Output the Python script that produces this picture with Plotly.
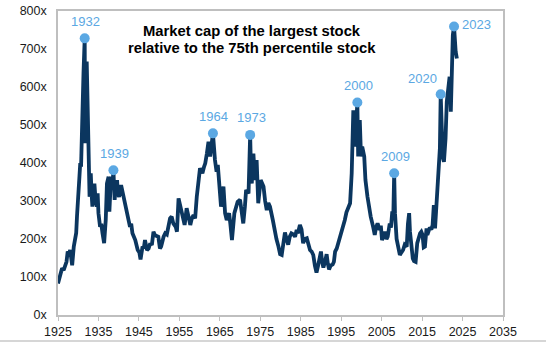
import plotly.graph_objects as go

# ---- data ----
years = [
    1925.0, 1925.5, 1926.0, 1926.4, 1926.8, 1927.1, 1927.4, 1927.7, 1928.0, 1928.3,
    1928.5, 1928.9, 1929.2, 1929.5, 1929.7, 1929.9, 1930.1, 1930.3, 1930.5, 1930.7,
    1930.9, 1931.1, 1931.3, 1931.6, 1931.7, 1932.1, 1932.2, 1932.4, 1932.6, 1932.8,
    1933.0, 1933.1, 1933.3, 1933.5, 1933.7, 1934.0, 1934.3, 1934.6, 1934.8, 1935.0,
    1935.4, 1935.7, 1936.0, 1936.4, 1936.8, 1937.1, 1937.5, 1937.7, 1938.1, 1938.4,
    1938.7, 1939.0, 1939.3, 1939.6, 1939.8, 1940.1, 1940.6, 1941.2, 1941.8, 1942.3,
    1942.8, 1943.1, 1943.4, 1944.1, 1944.7, 1945.1, 1945.4, 1945.9, 1946.2, 1946.5,
    1947.0, 1947.4, 1947.8, 1948.2, 1948.6, 1949.0, 1949.8, 1950.2, 1950.5, 1951.1,
    1951.5, 1951.9, 1952.3, 1952.7, 1953.1, 1953.5, 1954.1, 1954.4, 1954.8, 1955.2,
    1955.6, 1956.0, 1956.3, 1956.8, 1957.2, 1957.7, 1958.1, 1958.5, 1958.9, 1959.3,
    1960.1, 1960.7, 1961.1, 1961.4, 1961.8, 1962.2, 1962.6, 1963.0, 1963.3, 1963.8,
    1964.2, 1964.5, 1964.8, 1965.3, 1965.9, 1966.3, 1966.7, 1967.3, 1967.6, 1968.0,
    1968.6, 1969.0, 1969.4, 1970.0, 1970.4, 1970.8, 1971.2, 1971.5, 1972.1, 1972.5,
    1972.7, 1972.9, 1973.3, 1973.5, 1973.7, 1974.1, 1974.5, 1975.1, 1975.8, 1976.2,
    1976.6, 1977.0, 1977.4, 1978.1, 1978.6, 1979.0, 1979.5, 1979.9, 1980.3, 1980.7,
    1981.1, 1981.5, 1981.9, 1982.3, 1982.7, 1983.2, 1983.6, 1984.0, 1984.3, 1984.8,
    1985.2, 1985.6, 1986.0, 1986.5, 1986.9, 1987.3, 1987.7, 1988.1, 1988.5, 1988.9,
    1989.3, 1989.6, 1990.0, 1990.3, 1990.6, 1991.0, 1991.4, 1991.7, 1992.0, 1992.4,
    1992.9, 1993.2, 1993.5, 1993.9, 1994.3, 1994.7, 1995.1, 1995.5, 1995.9, 1996.3,
    1996.8, 1997.2, 1997.6, 1998.0, 1998.4, 1998.8, 1999.0, 1999.2, 1999.6, 1999.9,
    2000.2, 2000.7, 2001.0, 2001.5, 2001.9, 2002.3, 2002.9, 2003.3, 2003.6, 2004.0,
    2004.5, 2004.8, 2005.1, 2005.5, 2005.8, 2006.2, 2006.5, 2007.0, 2007.3, 2007.6,
    2007.9, 2008.1, 2008.3, 2008.7, 2009.0, 2009.5, 2009.9, 2010.3, 2010.7, 2011.2,
    2011.5, 2011.8, 2012.0, 2012.3, 2012.7, 2013.0, 2013.4, 2013.8, 2014.2, 2014.5,
    2014.8, 2015.1, 2015.4, 2015.7, 2016.1, 2016.3, 2016.9, 2017.3, 2017.6, 2017.9,
    2018.2, 2018.4, 2018.7, 2019.0, 2019.2, 2019.4, 2019.6, 2019.9, 2020.1, 2020.4,
    2020.8, 2021.1, 2021.5, 2021.8, 2022.1, 2022.3, 2022.6, 2022.9, 2023.1, 2023.3,
    2023.6,
]
ratio = [
    83, 105, 123, 118, 131, 140, 167, 160, 171, 150,
    131, 180, 200, 216, 260, 321, 330, 364, 400, 390,
    513, 540, 636, 728, 452, 667, 600, 452, 390, 311,
    360, 373, 320, 285, 330, 346, 300, 285, 320, 268,
    232, 240, 215, 189, 250, 346, 364, 272, 364, 330,
    381, 303, 340, 355, 320, 311, 342, 311, 285, 250,
    232, 240, 215, 197, 171, 165, 146, 180, 175, 197,
    171, 175, 189, 184, 219, 210, 206, 175, 180, 206,
    215, 212, 235, 254, 259, 241, 232, 219, 307, 290,
    263, 250, 237, 281, 260, 237, 255, 263, 254, 311,
    386, 373, 390, 399, 425, 456, 417, 465, 478, 408,
    377, 395, 355, 285, 338, 268, 250, 268, 240, 197,
    268, 280, 298, 303, 270, 241, 285, 329, 320, 474,
    380, 346, 425, 380, 355, 408, 294, 355, 338, 300,
    276, 295, 285, 250, 215, 200, 180, 160, 158, 190,
    217, 200, 185, 206, 215, 212, 206, 224, 215, 237,
    225, 189, 200, 202, 189, 171, 167, 158, 130, 112,
    130, 145, 167, 140, 125, 140, 160, 135, 120, 130,
    133, 140, 167, 175, 189, 205, 215, 230, 250, 270,
    285, 294, 373, 539, 443, 545, 559, 417, 513, 417,
    443, 417, 355, 311, 276, 259, 232, 211, 230, 241,
    224, 235, 197, 210, 219, 200, 206, 241, 230, 268,
    268, 373, 268, 200, 185, 158, 165, 171, 185, 180,
    240, 268, 220, 180, 149, 142, 140, 189, 205, 215,
    219, 211, 178, 180, 228, 211, 230, 225, 237, 289,
    228, 268, 281, 342, 381, 439, 581, 421, 415, 403,
    465, 561, 597, 627, 535, 614, 737, 759, 700, 693,
    675,
]

peak_years = [1931.6, 1938.7, 1963.3, 1972.5, 1999.0, 2008.1, 2019.6, 2022.9]
peak_values = [728, 381, 478, 474, 559, 373, 581, 759]
peak_labels = ["1932", "1939", "1964", "1973", "2000", "2009", "2020", "2023"]

x_ticks = list(range(1925, 2036, 10))
y_ticks = list(range(0, 801, 100))

title_lines = ["Market cap of the largest stock", "relative to the 75th percentile stock"]

# ---- styling ----
NAVY = "#0B365F"
LIGHT = "#5BA8E3"
GRID = "#BFBFBF"
FONT = "Liberation Sans, Arial, sans-serif"

fig = go.Figure()
fig.add_trace(go.Scatter(
    x=years, y=ratio, mode="lines",
    line=dict(color=NAVY, width=3.8),
    hoverinfo="skip", showlegend=False,
))
fig.add_trace(go.Scatter(
    x=peak_years, y=peak_values, mode="markers",
    marker=dict(color=LIGHT, size=10),
    hoverinfo="skip", showlegend=False,
))

for yr, v, lab in zip(peak_years, peak_values, peak_labels):
    if lab == "2023":
        kw = dict(xanchor="left", yanchor="middle", xshift=6, yshift=2)
    elif lab == "2020":
        kw = dict(xanchor="right", yanchor="middle", xshift=-2, yshift=16)
    else:
        kw = dict(xanchor="center", yanchor="middle", xshift=1, yshift=17)
    fig.add_annotation(x=yr, y=v, xref="x", yref="y", text=lab, showarrow=False,
                       font=dict(family=FONT, size=13, color=LIGHT), **kw)

# title, two lines placed 17px apart (plot area: y=11..315 px)
for i, line in enumerate(title_lines):
    ypx = 31 + 17 * i
    fig.add_annotation(x=0.435, y=(315 - ypx) / 304, xref="paper", yref="paper",
                       text=f"<b>{line}</b>", showarrow=False,
                       xanchor="center", yanchor="middle",
                       font=dict(family=FONT, size=14.8, color="#000000"))

# thin gray line at bottom of the image
fig.add_shape(type="line", xref="paper", yref="paper",
              x0=-0.14, x1=1.11, y0=-0.0855, y1=-0.0855,
              line=dict(color="#C8C8C8", width=1.5))

fig.update_layout(
    width=546, height=342,
    margin=dict(l=58, r=43, t=11, b=27, pad=0, autoexpand=False),
    paper_bgcolor="white", plot_bgcolor="white",
    font=dict(family=FONT, size=12.5, color="#1A1A1A"),
    xaxis=dict(
        range=[1925, 2035], tickvals=x_ticks, ticktext=[str(t) for t in x_ticks],
        showgrid=False, zeroline=False, showline=True, linecolor=GRID, linewidth=1.5,
        mirror=True, ticks="outside", ticklen=4, tickcolor=GRID, tickwidth=1.2,
        automargin=False,
        tickfont=dict(size=12.5, color="#1A1A1A"),
    ),
    yaxis=dict(
        range=[0, 800], tickvals=y_ticks, ticktext=[f"{t}x" for t in y_ticks],
        showgrid=False, zeroline=False, showline=True, linecolor=GRID, linewidth=1.5,
        mirror=True, ticks="", ticklabelstandoff=7, automargin=False,
        tickfont=dict(size=12.5, color="#1A1A1A"),
    ),
)

fig.write_html("out.html")
